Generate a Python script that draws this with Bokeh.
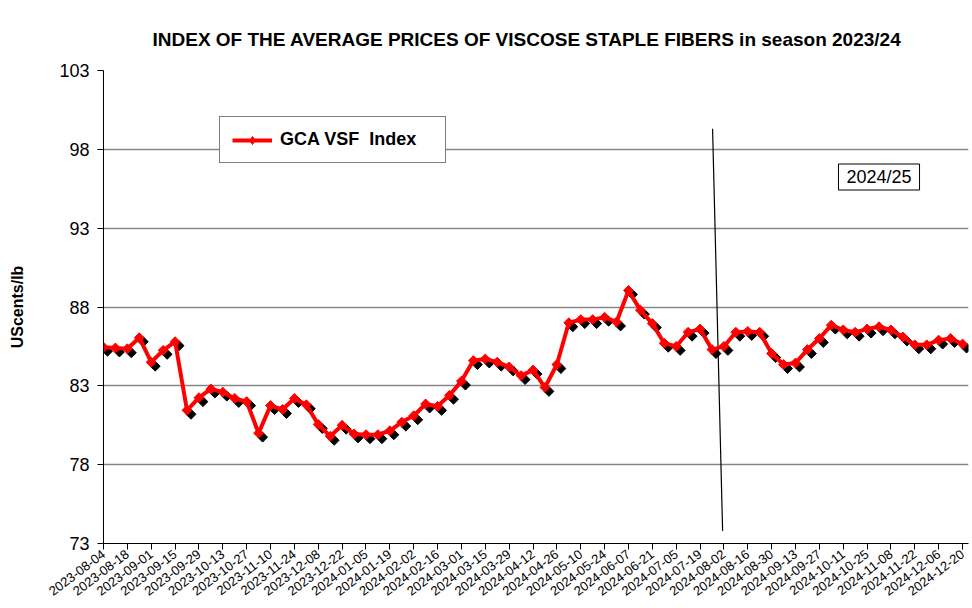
import numpy as np
from bokeh.plotting import figure
from bokeh.models import Range1d, FixedTicker, Legend, LegendItem, Label, ColumnDataSource
from bokeh.embed import file_html
from bokeh.resources import INLINE

# ---------------- data ----------------
dates = [
    "2023-08-04", "2023-08-11", "2023-08-18", "2023-08-25", "2023-09-01", "2023-09-08",
    "2023-09-15", "2023-09-22", "2023-09-29", "2023-10-06", "2023-10-13", "2023-10-20",
    "2023-10-27", "2023-11-03", "2023-11-10", "2023-11-17", "2023-11-24", "2023-12-01",
    "2023-12-08", "2023-12-15", "2023-12-22", "2023-12-29", "2024-01-05", "2024-01-12",
    "2024-01-19", "2024-01-26", "2024-02-02", "2024-02-09", "2024-02-16", "2024-02-23",
    "2024-03-01", "2024-03-08", "2024-03-15", "2024-03-22", "2024-03-29", "2024-04-05",
    "2024-04-12", "2024-04-19", "2024-04-26", "2024-05-03", "2024-05-10", "2024-05-17",
    "2024-05-24", "2024-05-31", "2024-06-07", "2024-06-14", "2024-06-21", "2024-06-28",
    "2024-07-05", "2024-07-12", "2024-07-19", "2024-07-26", "2024-08-02", "2024-08-09",
    "2024-08-16", "2024-08-23", "2024-08-30", "2024-09-06", "2024-09-13", "2024-09-20",
    "2024-09-27", "2024-10-04", "2024-10-11", "2024-10-18", "2024-10-25", "2024-11-01",
    "2024-11-08", "2024-11-15", "2024-11-22", "2024-11-29", "2024-12-06", "2024-12-13",
    "2024-12-20",
]

vsf_index = [
    85.45, 85.40, 85.35, 86.05, 84.50, 85.25, 85.80, 81.45, 82.25, 82.80,
    82.60, 82.20, 82.00, 80.00, 81.75, 81.50, 82.20, 81.80, 80.55, 79.80,
    80.50, 79.95, 79.90, 79.90, 80.15, 80.70, 81.10, 81.85, 81.70, 82.40,
    83.30, 84.60, 84.70, 84.50, 84.20, 83.65, 84.00, 82.90, 84.35, 87.00,
    87.20, 87.20, 87.35, 87.05, 89.05, 87.80, 86.95, 85.70, 85.50, 86.40,
    86.60, 85.30, 85.50, 86.40, 86.45, 86.40, 85.05, 84.35, 84.45, 85.30,
    86.00, 86.85, 86.55, 86.40, 86.60, 86.75, 86.55, 86.10, 85.60, 85.60,
    85.90, 86.00, 85.65,
]

y_ticks = [73, 78, 83, 88, 93, 98, 103]
title_text = "INDEX OF THE AVERAGE PRICES OF VISCOSE STAPLE FIBERS in season 2023/24"
series_name = "GCA VSF  Index"
season_label = "2024/25"
# season divider line (annotation), in data units: (x0, y0) -> (x1, y1)
divider_x = [51.05, 51.89]
divider_y = [99.3, 73.8]

FONT = "Liberation Sans"

x = np.arange(len(vsf_index))
y = np.array(vsf_index)

p = figure(
    width=972, height=608,
    x_range=Range1d(0, 72.5), y_range=Range1d(73, 103),
    output_backend="svg", toolbar_location=None,
    min_border_left=103, min_border_right=4, min_border_top=70, min_border_bottom=65,
    background_fill_color="white", border_fill_color="white",
)
p.outline_line_color = None

# title
p.title.text = title_text
p.title.align = "left"
p.title.offset = 49
p.title.standoff = 41
p.title.text_font = FONT
p.title.text_font_size = "19px"
p.title.text_font_style = "bold"
p.title.text_color = "black"

# grid
p.xgrid.grid_line_color = None
p.ygrid.grid_line_color = "#868686"
p.ygrid.grid_line_width = 1.3
p.ygrid.ticker = FixedTicker(ticks=y_ticks)

# y axis
p.yaxis.ticker = FixedTicker(ticks=y_ticks)
p.yaxis.major_label_text_font = FONT
p.yaxis.major_label_text_font_size = "18px"
p.yaxis.major_label_text_color = "black"
p.yaxis.major_label_standoff = 8
p.yaxis.major_tick_out = 6
p.yaxis.major_tick_in = 0
p.yaxis.minor_tick_line_color = None
p.yaxis.axis_line_color = "black"
p.yaxis.major_tick_line_color = "black"
p.yaxis.axis_label = "UScents/lb"
p.yaxis.axis_label_text_font = FONT
p.yaxis.axis_label_text_font_size = "16px"
p.yaxis.axis_label_text_font_style = "bold"
p.yaxis.axis_label_text_color = "black"
p.yaxis.axis_label_standoff = 30

# x axis
tick_idx = list(range(0, len(dates), 2))
p.xaxis.ticker = FixedTicker(ticks=tick_idx)
p.xaxis.major_label_overrides = {i: dates[i] for i in tick_idx}
p.xaxis.major_label_orientation = 0.65
p.xaxis.major_label_text_font = FONT
p.xaxis.major_label_text_font_size = "13px"
p.xaxis.major_label_text_color = "black"
p.xaxis.major_label_standoff = 3
p.xaxis.major_tick_out = 6
p.xaxis.major_tick_in = 0
p.xaxis.minor_tick_line_color = None
p.xaxis.axis_line_color = "black"
p.xaxis.major_tick_line_color = "black"

# season divider
p.line(divider_x, divider_y, line_color="black", line_width=1.2)

# marker shadows (offset by a few pixels right / down)
shadow_dx = 4 / 11.93
shadow_dy = 4 / 15.77
p.scatter(x + shadow_dx, y - shadow_dy, marker="square", angle=np.pi / 4, size=7,
          fill_color="black", line_color="black")

p.line(x, y, line_color="#FF0000", line_width=4)
p.scatter(x, y, marker="square", angle=np.pi / 4, size=7,
          fill_color="#FF0000", line_color="#FF0000")

# legend-only glyphs (a single NaN point, not drawn in the plot) so the legend shows a diamond
legend_src = ColumnDataSource(data=dict(x=[np.nan], y=[np.nan]))
lg_line = p.line("x", "y", source=legend_src, line_color="#FF0000", line_width=4)
lg_mark = p.scatter("x", "y", source=legend_src, marker="diamond", size=11,
                    fill_color="#FF0000", line_color="#FF0000")

legend = Legend(
    items=[LegendItem(label=series_name, renderers=[lg_line, lg_mark])],
    location=(116, 380),
    orientation="vertical",
    border_line_color="black", border_line_width=1.3,
    background_fill_color="white", background_fill_alpha=1.0,
    padding=12, margin=0, spacing=0,
    glyph_width=40, glyph_height=20, label_standoff=8, label_width=153, label_height=20,
    label_text_font=FONT, label_text_font_size="18px", label_text_font_style="bold",
    label_text_color="black",
)
p.add_layout(legend, "center")

season = Label(
    x=775.5, y=366.5, x_units="screen", y_units="screen", text=season_label,
    text_align="center", text_baseline="middle",
    text_font=FONT, text_font_size="18px", text_color="black",
    border_line_color="black", border_line_width=1,
    background_fill_color="white", padding=(8, 3),
)
p.add_layout(season)

open("out.html", "w").write(file_html(p, INLINE))
